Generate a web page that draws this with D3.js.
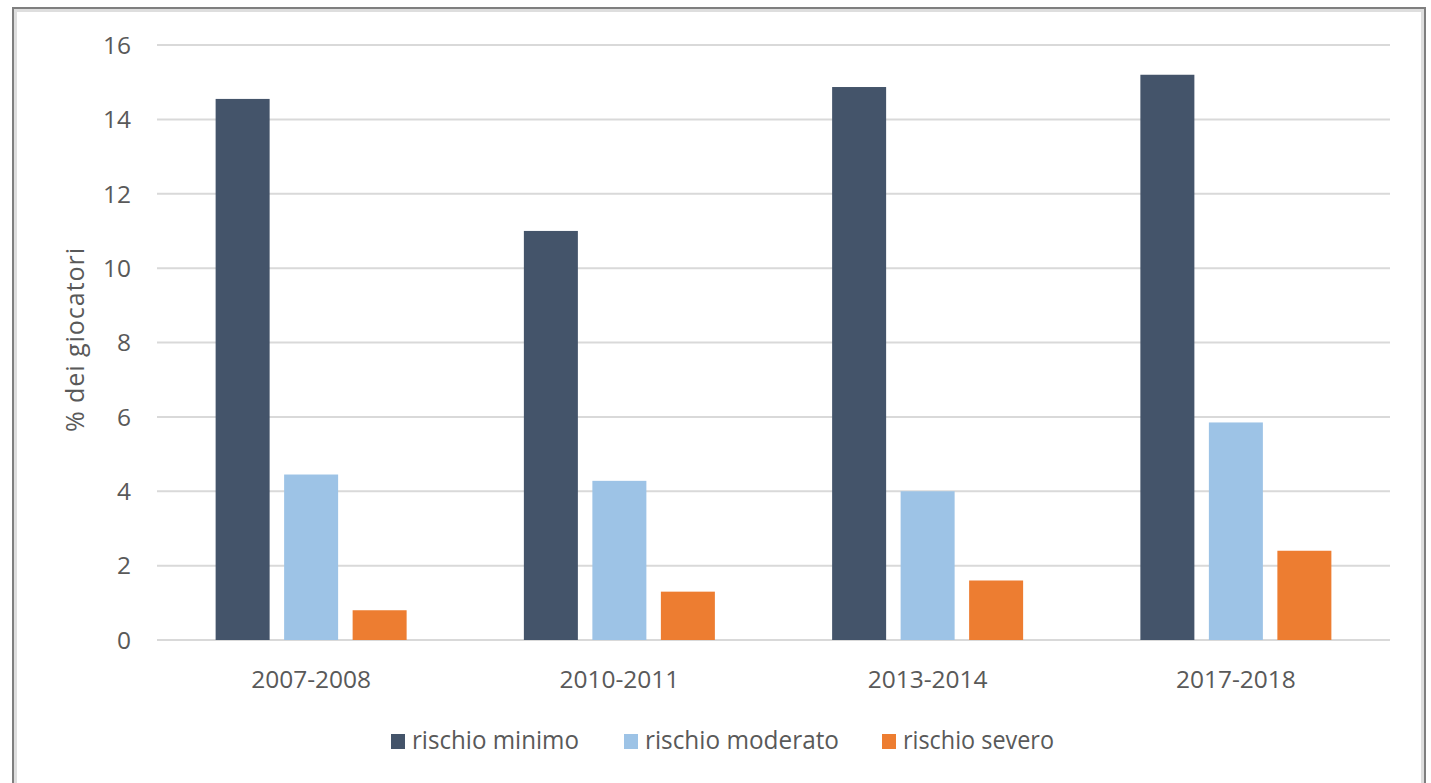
<!DOCTYPE html>
<html><head><meta charset="utf-8">
<script src="https://cdn.jsdelivr.net/npm/d3@7/dist/d3.min.js"></script>
<style>
html,body{margin:0;padding:0;background:#fff;}
svg{display:block;}
</style></head>
<body>
<svg id="chart" width="1431" height="783"></svg>
<script>
const categories = ["2007-2008", "2010-2011", "2013-2014", "2017-2018"];
const seriesNames = ["rischio minimo", "rischio moderato", "rischio severo"];
const rischioMinimo = [14.55, 11.0, 14.87, 15.2];
const rischioModerato = [4.45, 4.28, 4.0, 5.85];
const rischioSevero = [0.8, 1.3, 1.6, 2.4];
const yTicks = [0, 2, 4, 6, 8, 10, 12, 14, 16];
const colors = ["#44546a", "#9dc3e6", "#ed7d31"];

const seriesValues = [rischioMinimo, rischioModerato, rischioSevero];
const svg = d3.select("#chart");
const font = "'Open Sans', 'Noto Sans', sans-serif";
const textColor = "#595959";

// frame
svg.append("rect").attr("x", 13).attr("y", 8).attr("width", 1412).attr("height", 800)
  .attr("fill", "#fff").attr("stroke", "#7f7f7f").attr("stroke-width", 2);
svg.append("rect").attr("x", 15.5).attr("y", 10.5).attr("width", 1407).attr("height", 800)
  .attr("fill", "none").attr("stroke", "#dedede").attr("stroke-width", 3);

const pLeft = 157, pRight = 1390, pTop = 45, pBottom = 640;
const x0 = d3.scaleBand().domain(categories).range([pLeft, pRight]).paddingInner(0).paddingOuter(0);
const y = d3.scaleLinear().domain([0, 16]).range([pBottom, pTop]);
const x1 = d3.scaleBand().domain(seriesNames).range([0, 3 * 54 + 2 * 14.5]).paddingInner(14.5 / 68.5).paddingOuter(0);
const groupW = x1.range()[1];

// grid
svg.append("g").selectAll("line").data(yTicks).join("line")
  .attr("x1", pLeft).attr("x2", pRight)
  .attr("y1", d => y(d)).attr("y2", d => y(d))
  .attr("stroke", "#d9d9d9").attr("stroke-width", 2);

// y tick labels
svg.append("g").selectAll("text").data(yTicks).join("text")
  .attr("x", 131).attr("y", d => y(d)).attr("dy", "0.36em")
  .attr("text-anchor", "end").attr("font-family", font).attr("font-size", 24.5)
  .attr("fill", textColor).text(d => d);

// bars
const groups = svg.append("g").selectAll("g").data(categories).join("g")
  .attr("transform", c => `translate(${x0(c) + x0.bandwidth() / 2 - groupW / 2},0)`);
groups.selectAll("rect").data((c, i) => seriesNames.map((s, j) => ({s, j, v: seriesValues[j][i]})))
  .join("rect")
  .attr("x", d => x1(d.s)).attr("width", x1.bandwidth())
  .attr("y", d => y(d.v)).attr("height", d => y(0) - y(d.v))
  .attr("fill", d => colors[d.j]);

// x labels
svg.append("g").selectAll("text").data(categories).join("text")
  .attr("x", c => x0(c) + x0.bandwidth() / 2).attr("y", 688)
  .attr("text-anchor", "middle").attr("font-family", font).attr("font-size", 24.5)
  .attr("fill", textColor).text(c => c);

// y title
svg.append("text").attr("transform", "translate(84,340) rotate(-90)")
  .attr("text-anchor", "middle").attr("font-family", font).attr("font-size", 25)
  .attr("textLength", 184).attr("lengthAdjust", "spacing")
  .attr("fill", textColor).text("% dei giocatori");

// legend
const legendTextX = [412, 645, 903];
const legendLen = [167, 194, 151];
const lg = svg.append("g").selectAll("g").data(seriesNames).join("g")
  .attr("transform", (d, i) => `translate(${legendTextX[i]},0)`);
lg.append("rect").attr("x", -21).attr("y", 734).attr("width", 14).attr("height", 15)
  .attr("fill", (d, i) => colors[i]);
lg.append("text").attr("x", 0).attr("y", 749)
  .attr("textLength", (d, i) => legendLen[i]).attr("lengthAdjust", "spacingAndGlyphs")
  .attr("font-family", font).attr("font-size", 25).attr("fill", textColor).text(d => d);
</script>
</body></html>
